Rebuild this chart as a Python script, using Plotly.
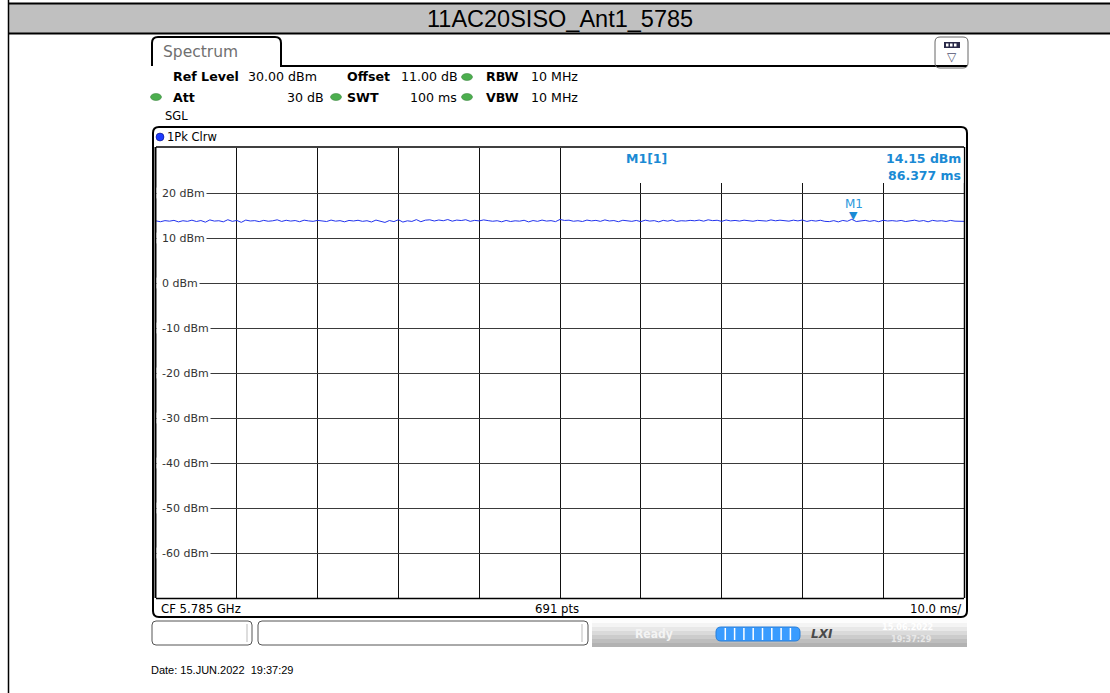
import plotly.graph_objects as go
import numpy as np

# ---- data ----
sweep_ms = 100.0
ref_level = 30
y_ticks = [20, 10, 0, -10, -20, -30, -40, -50, -60]
y_tick_labels = ["20 dBm", "10 dBm", "0 dBm", "-10 dBm", "-20 dBm", "-30 dBm", "-40 dBm", "-50 dBm", "-60 dBm"]
trace_dbm = [
    13.80, 13.62, 13.86, 13.74, 13.92, 13.58, 13.84, 13.70, 13.96, 13.66, 13.88, 13.52, 14.02, 13.76, 13.84,
    13.60, 14.06, 13.70, 13.90, 13.48, 13.98, 13.78, 13.86, 13.64, 13.92, 13.72, 13.82, 14.04, 13.68, 13.94,
    13.76, 13.88, 13.62, 13.96, 13.80, 13.70, 13.92, 13.84, 13.66, 13.98, 13.74, 13.86, 13.60, 13.90, 13.78,
    13.94, 13.70, 13.84, 13.56, 13.98, 13.72, 13.46, 13.88, 13.64, 14.06, 13.54, 13.82, 13.68, 14.08, 13.62,
    13.96, 14.04, 13.78, 14.00, 13.84, 14.10, 13.74, 13.98, 13.88, 14.06, 13.70, 13.92, 13.80, 14.02, 13.86,
    13.72, 13.84, 13.60, 13.90, 13.66, 13.82, 13.74, 13.94, 13.58, 13.88, 13.70, 13.98, 13.76, 13.86, 13.64,
    14.12, 13.90, 13.96, 13.72, 13.84, 13.66, 13.98, 13.80, 13.92, 13.70, 14.02, 13.78, 13.88, 13.62, 13.94,
    13.80, 13.70, 13.90, 13.64, 13.96, 13.76, 13.86, 13.58, 13.92, 13.74, 14.00, 13.68, 13.84, 13.78, 13.92,
    13.82, 13.98, 13.74, 14.04, 13.86, 13.94, 13.70, 14.00, 13.80, 13.90, 13.76, 13.96, 13.84, 13.72, 13.92,
    13.88, 13.76, 14.02, 13.82, 13.96, 13.86, 13.74, 13.96, 13.80, 14.00, 13.68, 13.90, 13.76, 13.94, 13.70,
    13.64, 13.86, 13.58, 13.90, 13.72, 14.15, 13.66, 13.84, 13.92, 13.70, 13.88, 13.62, 13.94, 13.78, 13.86,
    13.74, 13.90, 13.66, 13.84, 13.96, 13.72, 13.88, 13.60, 13.92, 13.76, 13.84, 13.68, 13.90, 13.74, 13.80, 13.70,
]
trace_time_ms = np.linspace(0, sweep_ms, len(trace_dbm))
marker_time_ms = 86.377
marker_dbm = 14.15
title_text = "11AC20SISO_Ant1_5785"

# ---- geometry helpers (pixel -> paper) ----
L, R, T, B = 156, 964, 148, 598
W, H = 1110, 693


def X(px):
    return (px - L) / (R - L)


def Y(py):
    return (B - py) / (B - T)


shapes = []
annotations = []


def rect(x0, y0, x1, y1, fill=None, line=None, lw=1, layer="above"):
    shapes.append(dict(type="rect", xref="paper", yref="paper",
                       x0=X(x0), y0=Y(y0), x1=X(x1), y1=Y(y1),
                       fillcolor=fill if fill else "rgba(0,0,0,0)",
                       line=dict(color=line if line else "rgba(0,0,0,0)", width=lw if line else 0),
                       layer=layer))


def line(x0, y0, x1, y1, color="black", lw=1, layer="above"):
    shapes.append(dict(type="line", xref="paper", yref="paper",
                       x0=X(x0), y0=Y(y0), x1=X(x1), y1=Y(y1),
                       line=dict(color=color, width=lw), layer=layer))


def path(pts_str_list, color="black", lw=1, fill=None, layer="above"):
    shapes.append(dict(type="path", xref="paper", yref="paper", path=pts_str_list,
                       line=dict(color=color, width=lw),
                       fillcolor=fill if fill else "rgba(0,0,0,0)", layer=layer))


def rrect_path(x0, y0, x1, y1, r):
    return (f"M {X(x0+r)},{Y(y0)} L {X(x1-r)},{Y(y0)} Q {X(x1)},{Y(y0)} {X(x1)},{Y(y0+r)} "
            f"L {X(x1)},{Y(y1-r)} Q {X(x1)},{Y(y1)} {X(x1-r)},{Y(y1)} L {X(x0+r)},{Y(y1)} "
            f"Q {X(x0)},{Y(y1)} {X(x0)},{Y(y1-r)} L {X(x0)},{Y(y0+r)} Q {X(x0)},{Y(y0)} {X(x0+r)},{Y(y0)} Z")


def text(px, py, s, size=11, color="black", family="DejaVu Sans", xanchor="left", yanchor="middle",
         bg=None, bold=False):
    annotations.append(dict(xref="paper", yref="paper", x=X(px), y=Y(py),
                            text=f"<b>{s}</b>" if bold else s, showarrow=False,
                            xanchor=xanchor, yanchor=yanchor,
                            font=dict(size=size, color=color, family=family),
                            bgcolor=bg if bg else "rgba(0,0,0,0)", borderpad=0))


# ---- outer document frame ----
rect(8, 4, 1112, 33, fill="#c0c0c0")
line(8, 3.5, 1112, 3.5, lw=2)
line(8, 33.5, 1112, 33.5, lw=2)
line(8.5, 0, 8.5, 693, lw=1.5)
text(560, 19, title_text, size=23.5, family="Liberation Sans Narrow, Liberation Sans, Arial", xanchor="center")

# ---- spectrum tab ----
path(f"M {X(152)},{Y(66)} L {X(152)},{Y(43)} Q {X(152)},{Y(37)} {X(158)},{Y(37)} L {X(275)},{Y(37)} "
     f"Q {X(281)},{Y(37)} {X(281)},{Y(43)} L {X(281)},{Y(66)} L {X(967)},{Y(66)}", lw=2)
text(162, 52, "Spectrum", size=15.5, color="#707070")

# icon top-right
path(rrect_path(935, 37, 968, 68, 5), color="#666", lw=1)
rect(944, 42, 960, 48, fill="#2a2a48")
for sx in (946, 950, 954):
    rect(sx, 43.5, sx + 2.5, 46.5, fill="white")
text(952, 57, "▽", size=12, color="#505070", xanchor="center")

# ---- info rows ----
green = "#4cae4e"
for cx, cy in [(467, 77), (156, 97), (336, 97), (467, 97)]:
    shapes.append(dict(type="circle", xref="paper", yref="paper",
                       x0=X(cx - 5.5), x1=X(cx + 5.5), y0=Y(cy - 3.5), y1=Y(cy + 3.5),
                       fillcolor=green, line=dict(color="#2e7d32", width=0.5)))
fs = 12.6
text(172, 77, "Ref Level", size=fs, bold=True)
text(247, 77, "30.00 dBm", size=fs)
text(346, 77, "Offset", size=fs, bold=True)
text(400, 77, "11.00 dB", size=fs)
text(485, 77, "RBW", size=fs, bold=True)
text(530, 77, "10 MHz", size=fs)
text(172, 97, "Att", size=fs, bold=True)
text(325, 97, "30 dB", size=fs, xanchor="right")
text(346, 97, "SWT", size=fs, bold=True)
text(458, 97, "100 ms", size=fs, xanchor="right")
text(485, 97, "VBW", size=fs, bold=True)
text(530, 97, "10 MHz", size=fs)
text(164, 116, "SGL", size=11.5)

# ---- plot frame ----
path(rrect_path(153, 127, 967, 617, 6), lw=2)
line(156, 147, 964, 147, lw=1.5)
line(155.5, 147, 155.5, 598, lw=2)
line(964.5, 147, 964.5, 598, lw=1.5)
line(156, 598.5, 964, 598.5, lw=1.5)
shapes.append(dict(type="circle", xref="paper", yref="paper",
                   x0=X(156), x1=X(164), y0=Y(133), y1=Y(141),
                   fillcolor="#1e3cff", line=dict(color="#000060", width=0.5)))
text(166, 137, "1Pk Clrw", size=11.5)

# marker info area covers the grid
rect(561, 148, 963.5, 183, fill="white")
mcol = "#1a8ad4"
text(625, 158, "M1[1]", size=12.5, color=mcol, bold=True)
text(962, 158, "14.15 dBm", size=12.5, color=mcol, xanchor="right", bold=True)
text(962, 175, "86.377 ms", size=12.5, color=mcol, xanchor="right", bold=True)

# y tick labels (white box hides the grid line behind the label)
for v, lab in zip(y_ticks, y_tick_labels):
    shapes.append(dict(type="rect", xref="paper", yref="y", x0=X(156.6), x1=X(161), y0=v - 1.2, y1=v + 1.2,
                       fillcolor="white", line=dict(width=0), layer="above"))
    annotations.append(dict(xref="paper", yref="y", x=X(159.5), y=v, text=lab, showarrow=False,
                            xanchor="left", yanchor="middle",
                            font=dict(size=11, color="#333", family="DejaVu Sans"),
                            bgcolor="white", borderpad=1))

# marker M1
annotations.append(dict(xref="x", yref="y", x=marker_time_ms, y=marker_dbm, text="▼", showarrow=False,
                        xanchor="center", yanchor="bottom", yshift=-5,
                        font=dict(size=11, color=mcol, family="DejaVu Sans")))
annotations.append(dict(xref="x", yref="y", x=marker_time_ms, y=marker_dbm, text="M1", showarrow=False,
                        xanchor="center", yanchor="bottom", yshift=6,
                        font=dict(size=12, color="#2a98dc", family="DejaVu Sans")))

# bottom row of the plot
text(160, 608, "CF 5.785 GHz", size=13, family="DejaVu Sans Condensed, DejaVu Sans")
text(557, 608, "691 pts", size=13, family="DejaVu Sans Condensed, DejaVu Sans", xanchor="center")
text(962, 608, "10.0 ms/", size=13, family="DejaVu Sans Condensed, DejaVu Sans", xanchor="right")

# ---- status bar ----
path(rrect_path(152, 621, 252, 645, 4), color="#555", lw=1)
line(247, 624, 247, 642, color="#bbbbbb")
path(rrect_path(258, 621, 588, 645, 4), color="#555", lw=1)
line(582, 624, 582, 642, color="#bbbbbb")
grays = ["#fdfdfd", "#f4f4f4", "#e8e8e8", "#dadada", "#cccccc", "#bebebe", "#b2b2b2"]
for i, g in enumerate(grays):
    rect(592, 619 + i * 4, 967, 623 + i * 4, fill=g)
text(654, 634, "Ready", size=12, color="#f4f4f4", family="DejaVu Sans Condensed, DejaVu Sans",
     xanchor="center", bold=True)
path(rrect_path(716, 627, 800, 641, 5), color="#2a7fd8", lw=1, fill="#3a9cff")
for k in range(1, 9):
    line(716 + k * 9.3, 628, 716 + k * 9.3, 640, color="white", lw=1.5)
text(822, 634, "<i>LXI</i>", size=12, color="#4a4a4a", xanchor="center", bold=True)
text(907, 627, "15.06.2022", size=9, color="white", family="DejaVu Sans Condensed, DejaVu Sans",
     xanchor="center", bold=True)
text(933, 639, "19:37:29", size=9, color="#e8e8e8", family="DejaVu Sans Condensed, DejaVu Sans",
     xanchor="right", bold=True)

# date below
text(150, 670, "Date: 15.JUN.2022  19:37:29", size=11, family="Liberation Sans, Arial")

fig = go.Figure()
fig.add_trace(go.Scatter(x=trace_time_ms, y=trace_dbm, mode="lines",
                         line=dict(color="#2233ee", width=1), hoverinfo="skip", showlegend=False))

fig.update_layout(
    width=W, height=H,
    margin=dict(l=L, r=W - R, t=T, b=H - B, pad=0),
    paper_bgcolor="white", plot_bgcolor="white",
    showlegend=False,
    xaxis=dict(range=[0, sweep_ms], dtick=10, tick0=0, showgrid=True, gridcolor="#111", gridwidth=1,
               showticklabels=False, ticks="", zeroline=False, showline=False, fixedrange=True),
    yaxis=dict(range=[ref_level - 100, ref_level], dtick=10, tick0=0, showgrid=True, gridcolor="#3a3a3a",
               gridwidth=1, showticklabels=False, ticks="", zeroline=False, showline=False, fixedrange=True),
    shapes=shapes,
    annotations=annotations,
)

fig.write_html("out.html", config={"displayModeBar": False},
               post_script="document.body.style.margin='0';document.body.style.overflow='hidden';")
